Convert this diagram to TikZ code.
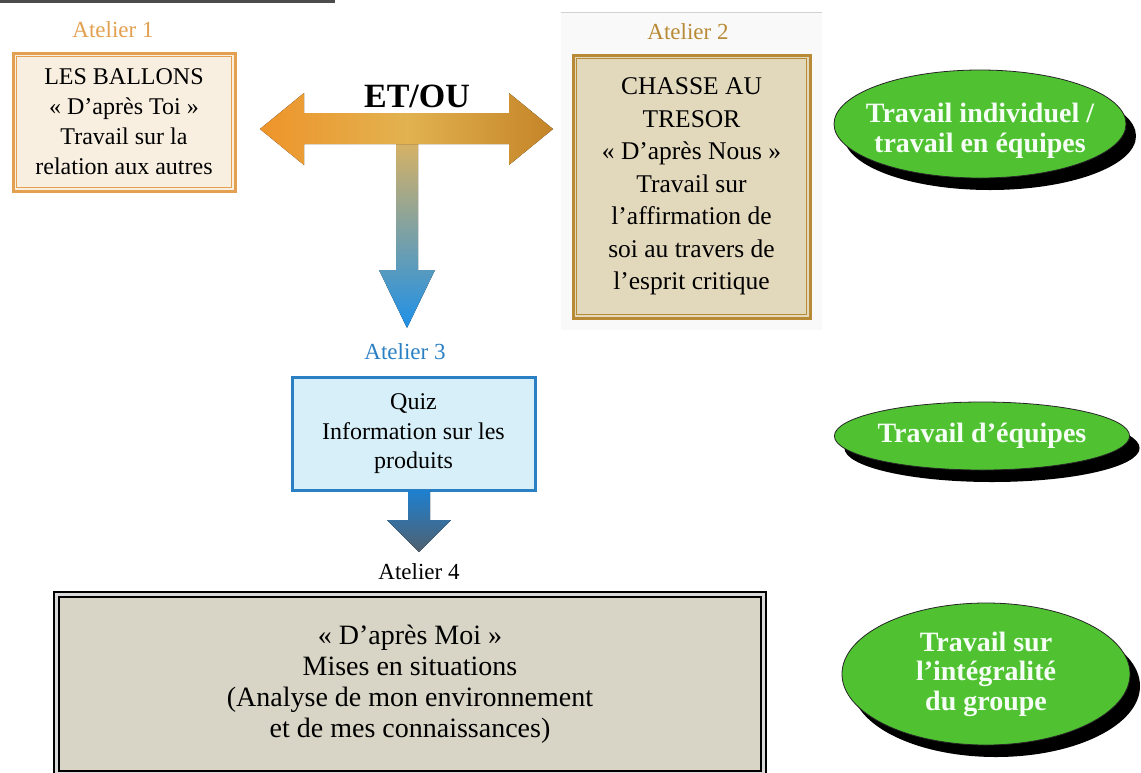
\documentclass[tikz,border=0pt]{standalone}
\usepackage{fontspec}
\setmainfont{Liberation Serif}
\usepackage{xcolor}
\usepackage{tikz}
\usetikzlibrary{calc,shapes.geometric,shadows}

\definecolor{orun}{HTML}{E3A050}
\definecolor{cremeun}{HTML}{F8EFE0}
\definecolor{ordeux}{HTML}{B98A35}
\definecolor{beigedeux}{HTML}{E2D8BC}
\definecolor{bleutrois}{HTML}{2B80C4}
\definecolor{cieltrois}{HTML}{D6EFF8}
\definecolor{grisquatre}{HTML}{D9D5C6}
\definecolor{vertbulle}{HTML}{50C232}

\begin{document}
\begin{tikzpicture}[x=1pt,y=-1pt,
	atelier/.style={font=\fontsize{23}{27}\selectfont},
	boite/.style={align=center,inner sep=0pt},
	bultexte/.style={text=green!4,align=center,inner sep=0pt,font=\bfseries\fontsize{28}{29.5}\selectfont},
	bulle/.style={ellipse,draw=black!85,line width=0.8pt,fill=vertbulle,bultexte,
		drop shadow={shadow xshift=10pt,shadow yshift=-12pt,fill=black,opacity=1}}]
				\useasboundingbox (0,0) rectangle (1141,772);
				\fill[white] (0,0) rectangle (1141,772);
				\draw[gray!60!black,line width=2.5pt] (0,1.5) -- (335,1.5);
				\fill[gray!5] (561,12) rectangle (822,330);
				\draw[gray!35] (561,12) -- (822,12);
				% ateliers
				\node[atelier,text=orun] (a1) at (113,30) {Atelier 1};
				\node[boite,draw=orun,line width=3pt,fill=cremeun,minimum width=222pt,minimum height=138pt,
					font=\fontsize{24}{30}\selectfont] (b1) at (124,122)
					{LES BALLONS\\« D’après Toi »\\Travail sur la\\relation aux autres};
				\draw[orun,line width=1pt] ([shift={(5,5)}]b1.north west) rectangle ([shift={(-5,-5)}]b1.south east);
				\node[atelier,text=ordeux] (a2) at (688,32) {Atelier 2};
				\node[boite,draw=ordeux,line width=3pt,fill=beigedeux,minimum width=237pt,minimum height=263pt,
					font=\fontsize{25.5}{32.5}\selectfont] (b2) at (691.5,186.5)
					{CHASSE AU\\TRESOR\\« D’après Nous »\\Travail sur\\l’affirmation de\\soi au travers de\\l’esprit critique};
				\draw[ordeux,line width=1pt] ([shift={(5,5)}]b2.north west) rectangle ([shift={(-5,-5)}]b2.south east);
				\node[atelier,text=bleutrois] (a3) at (405,352) {Atelier 3};
				\node[boite,draw=bleutrois,line width=3pt,fill=cieltrois,minimum width=243pt,minimum height=113pt,
					font=\fontsize{24}{29.5}\selectfont] (b3) at (413.5,434)
					{Quiz\\Information sur les\\produits};
				\node[atelier] (a4) at (419,572) {Atelier 4};
				\node[boite,draw=black,line width=4pt,fill=grisquatre,minimum width=710pt,minimum height=182pt,
					font=\fontsize{28}{31}\selectfont] (b4) at (410,684)
					{« D’après Moi »\\Mises en situations\\(Analyse de mon environnement\\et de mes connaissances)};
				\draw[gray!30,line width=2.5pt] ([shift={(3.5,3.5)}]b4.north west) rectangle ([shift={(-3.5,-3.5)}]b4.south east);
				\draw[black,line width=1.5pt] ([shift={(6,6)}]b4.north west) rectangle ([shift={(-6,-6)}]b4.south east);
				% fleches
				\coordinate (G) at (260,129);
				\coordinate (D) at (553,129);
				\coordinate (B) at (407,328);
				\fill[top color={rgb,255:red,218;green,178;blue,98},bottom color={rgb,255:red,30;green,144;blue,232}]
					(396,140) -- (396,270) -- (379,270) -- (B) -- (435,270) -- (418,270) -- (418,140) -- cycle;
				\fill[left color={rgb,255:red,238;green,148;blue,42},right color={rgb,255:red,196;green,132;blue,40},
					middle color={rgb,255:red,226;green,178;blue,80}]
					(G) -- (304,93) -- (304,113) -- (509,113) -- (509,93) -- (D) -- (509,165) -- (509,144)
					-- (304,144) -- (304,165) -- cycle;
				\node[font=\bfseries\fontsize{34}{40}\selectfont] (etou) at (417,96) {ET/OU};
				\coordinate (P) at (419,552);
				\fill[top color={rgb,255:red,30;green,128;blue,208},bottom color={rgb,255:red,80;green,96;blue,110}]
					(408,490) -- (408,520) -- (387,520) -- (P) -- (451,520) -- (430,520) -- (430,490) -- cycle;
				% bulles
				\node[bulle,minimum width=292pt,minimum height=108pt] (e1) at (980,124) {};
				\node[bultexte] (t1) at ([yshift=-7]e1.center) {Travail individuel /\\travail en équipes};
				\node[bulle,minimum width=285pt,minimum height=68pt] (e2) at (982,436) {Travail d’équipes};
				\node[bulle,minimum width=288pt,minimum height=142pt] (e3) at (986,674)
					{Travail sur\\l’intégralité\\du groupe};
			\end{tikzpicture}
\end{document}
